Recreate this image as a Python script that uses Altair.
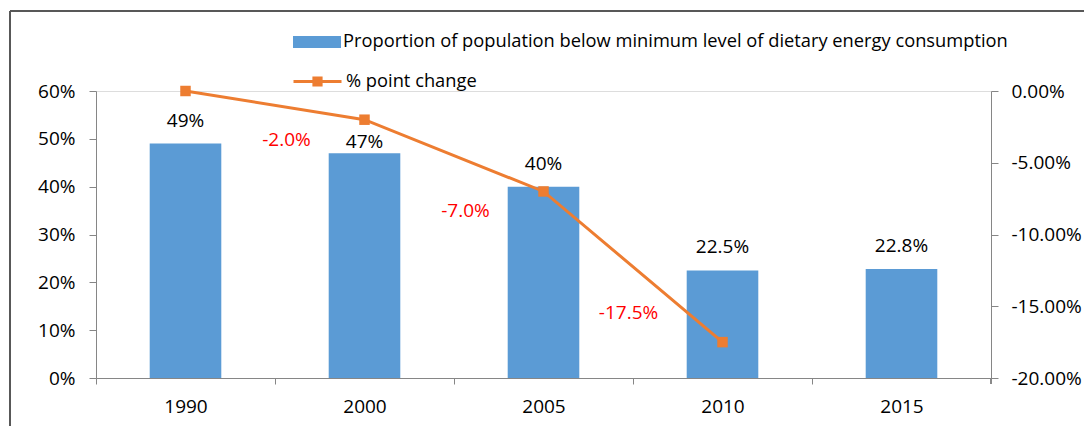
import altair as alt
import pandas as pd

years = ["1990", "2000", "2005", "2010", "2015"]
proportion = [0.49, 0.47, 0.40, 0.225, 0.228]
prop_labels = ["49%", "47%", "40%", "22.5%", "22.8%"]

change_years = ["1990", "2000", "2005", "2010"]
change = [0.0, -0.02, -0.07, -0.175]

diff_years = ["2000", "2005", "2010"]
diff = [-0.02, -0.07, -0.175]
diff_labels = ["-2.0%", "-7.0%", "-17.5%"]

BAR_NAME = "Proportion of population below minimum level of dietary energy consumption"
LINE_NAME = "% point change"
BLUE = "#5B9BD5"
ORANGE = "#ED7D31"
AXIS_GRAY = "#868686"
FONT = "Open Sans"
FS = 19
LFS = 18.3

bars_df = pd.DataFrame({"year": years, "value": proportion, "label": prop_labels})
line_df = pd.DataFrame({"year": change_years, "value": change})
diff_df = pd.DataFrame({"year": diff_years, "value": diff, "label": diff_labels})

W, H = 895, 287
STEP = W / 5

xscale = alt.Scale(domain=years, paddingInner=0.6, paddingOuter=0.3)
xenc = alt.X("year:N", scale=xscale, sort=years,
             axis=alt.Axis(title=None, labelAngle=0, tickSize=6, tickOffset=-STEP / 2,
                           labelOffset=STEP / 2, labelPadding=13,
                           domainColor=AXIS_GRAY, tickColor=AXIS_GRAY,
                           labelFontSize=FS, labelColor="black", labelFont=FONT))

left_axis = alt.Axis(title=None, orient="left", values=[0, 0.1, 0.2, 0.3, 0.4, 0.5, 0.6],
                     format=".0%", grid=False, tickSize=7, labelPadding=14,
                     domainColor=AXIS_GRAY, tickColor=AXIS_GRAY, labelFontSize=FS,
                     labelColor="black", labelFont=FONT)
right_axis = alt.Axis(title=None, orient="right", values=[0, -0.05, -0.1, -0.15, -0.2],
                      labelExpr="(datum.value < 0 ? '-' : '') + format(abs(datum.value), '.2%')",
                      grid=False, tickSize=7, labelPadding=13,
                      domainColor=AXIS_GRAY, tickColor=AXIS_GRAY, labelFontSize=FS,
                      labelColor="black", labelFont=FONT)

yl = alt.Scale(domain=[0, 0.6], nice=False)
yr = alt.Scale(domain=[-0.2, 0], nice=False)

bar_legend = alt.Legend(title=None, orient="none", legendX=197, legendY=-73,
                        symbolType="M-1,-0.25H1V0.25H-1Z", symbolSize=2304,
                        symbolStrokeWidth=0, labelFontSize=LFS, labelFont=FONT,
                        labelColor="black", labelOffset=2, labelLimit=0)
line_legend = alt.Legend(title=None, orient="none", legendX=196, legendY=-35,
                         symbolType="M-1,0H1M-0.15,-0.15H0.15V0.15H-0.15Z", symbolSize=2304,
                         symbolStrokeWidth=3, symbolFillColor=ORANGE, symbolStrokeColor=ORANGE,
                         labelFontSize=LFS, labelFont=FONT, labelColor="black", labelOffset=3,
                         labelLimit=0)

bars = alt.Chart(bars_df).mark_bar(color=BLUE).encode(
    x=xenc,
    y=alt.Y("value:Q", scale=yl, axis=left_axis),
    color=alt.Color("series:N", scale=alt.Scale(domain=[BAR_NAME], range=[BLUE]), legend=bar_legend),
).transform_calculate(series=f"'{BAR_NAME}'")

bar_text_main = alt.Chart(bars_df).transform_filter("datum.year != '2000'").mark_text(
    baseline="middle", dy=-23, fontSize=FS, font=FONT, color="black").encode(
    x=alt.X("year:N", scale=xscale, sort=years), y=alt.Y("value:Q", scale=yl), text="label:N")
bar_text_2000 = alt.Chart(bars_df).transform_filter("datum.year == '2000'").mark_text(
    baseline="middle", dy=-11, fontSize=FS, font=FONT, color="black").encode(
    x=alt.X("year:N", scale=xscale, sort=years), y=alt.Y("value:Q", scale=yl), text="label:N")

# last category-boundary tick at the right end of the x axis
end_tick = alt.Chart(bars_df).mark_rule(color=AXIS_GRAY, strokeWidth=1).encode(
    x=alt.value(W), y=alt.value(H), y2=alt.value(H + 6))

bar_layer = alt.layer(bars, bar_text_main, bar_text_2000, end_tick)

line = alt.Chart(line_df).mark_line(strokeWidth=3, color=ORANGE).encode(
    x=alt.X("year:N", scale=xscale, sort=years),
    y=alt.Y("value:Q", scale=yr, axis=right_axis),
    color=alt.Color("series:N", scale=alt.Scale(domain=[LINE_NAME], range=[ORANGE]), legend=line_legend),
).transform_calculate(series=f"'{LINE_NAME}'")
points = alt.Chart(line_df).mark_point(shape="square", filled=True, size=110, opacity=1,
                                       color=ORANGE).encode(
    x=alt.X("year:N", scale=xscale, sort=years), y=alt.Y("value:Q", scale=yr))
red1 = alt.Chart(diff_df).transform_filter("datum.year != '2010'").mark_text(
    baseline="middle", dx=-78, dy=20, fontSize=FS, font=FONT, color="#FF0000").encode(
    x=alt.X("year:N", scale=xscale, sort=years), y=alt.Y("value:Q", scale=yr), text="label:N")
red2 = alt.Chart(diff_df).transform_filter("datum.year == '2010'").mark_text(
    baseline="middle", dx=-94, dy=-29, fontSize=FS, font=FONT, color="#FF0000").encode(
    x=alt.X("year:N", scale=xscale, sort=years), y=alt.Y("value:Q", scale=yr), text="label:N")

line_layer = alt.layer(line, points, red1, red2)

frame_top = alt.Chart(bars_df).mark_rule(color="#595959", strokeWidth=1.5).encode(
    x=alt.value(-86), x2=alt.value(990), y=alt.value(-80))
frame_left = alt.Chart(bars_df).mark_rule(color="#595959", strokeWidth=1.5).encode(
    x=alt.value(-86), y=alt.value(-80), y2=alt.value(340))

chart = alt.layer(bar_layer, line_layer, frame_top, frame_left).resolve_scale(
    y="independent", color="independent"
).properties(
    width=W, height=H,
    autosize=alt.AutoSizeParams(type="none"),
    padding={"left": 88, "top": 83, "right": 93, "bottom": 48},
).configure_view(stroke=None).configure(font=FONT)

chart.save("out.html", embed_options={"renderer": "svg", "actions": False})
